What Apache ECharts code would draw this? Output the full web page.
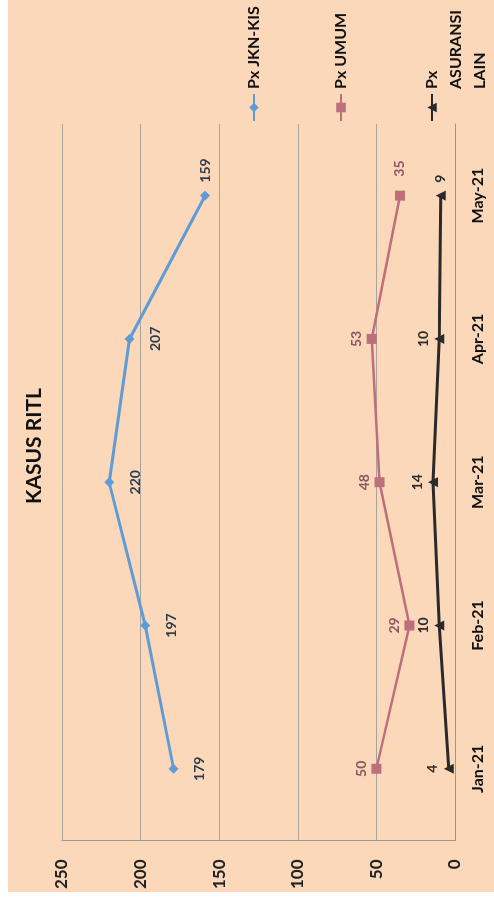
<!DOCTYPE html>
<html>
<head>
<meta charset="utf-8">
<title>KASUS RITL</title>
<script src="https://cdn.jsdelivr.net/npm/echarts@6/dist/echarts.min.js"></script>
<style>
html, body {
  margin: 0;
  padding: 0;
  width: 494px;
  height: 901px;
  overflow: hidden;
  background: #ffffff;
}
/* the scanned chart is turned on its side, so the whole chart is drawn flat and rotated */
#wrap {
  position: absolute;
  left: 0;
  top: 0;
  width: 901px;
  height: 494px;
  transform-origin: 0 0;
  transform: translate(0px, 901px) rotate(-90deg);
}
#kasusRitl {
  position: absolute;
  left: 9px;
  top: 8px;
  width: 892px;
  height: 486px;
}
</style>
</head>
<body>
<div id="wrap">
  <div id="kasusRitl"></div>
</div>
<script>
// data
const months = ['Jan-21', 'Feb-21', 'Mar-21', 'Apr-21', 'May-21'];
const pxJknKis = [179, 197, 220, 207, 159];
const pxUmum = [50, 29, 48, 53, 35];
const pxAsuransiLain = [4, 10, 14, 10, 9];
const valueTicks = [0, 50, 100, 150, 200, 250];
const seriesNames = ['Px JKN-KIS', 'Px UMUM', 'Px ASURANSI LAIN'];

const font = 'Lato, "Open Sans", "Liberation Sans", sans-serif';

// last point of each line has its label on the right
function withLastRight(list, dist) {
  return list.map(function (v, i) {
    if (i === list.length - 1) {
      return { value: v, label: { position: 'right', distance: dist } };
    }
    return v;
  });
}

function legendFor(name, top, extraText) {
  return {
    orient: 'vertical',
    left: 770,
    top: top,
    padding: 0,
    itemGap: 0,
    itemWidth: 27,
    itemHeight: 12,
    data: [name],
    selectedMode: false,
    formatter: function (n) {
      // two empty lines first so the marker sits next to "Px"
      return n === seriesNames[2] ? '\n\nPx\nASURANSI\nLAIN' : n;
    },
    textStyle: Object.assign({
      fontFamily: font,
      fontSize: 16,
      fontWeight: 'bold',
      color: '#111'
    }, extraText || {})
  };
}

const myChart = echarts.init(document.getElementById('kasusRitl'), null, { renderer: 'canvas' });

const option = {
  backgroundColor: '#fbd8b9',
  animation: false,
  textStyle: { fontFamily: font },
  title: {
    text: 'KASUS RITL',
    left: 'center',
    top: 16,
    padding: 0,
    textStyle: {
      fontFamily: font,
      fontSize: 21,
      fontWeight: 'bold',
      color: '#111'
    }
  },
  legend: [
    legendFor(seriesNames[0], 238),
    legendFor(seriesNames[1], 325),
    legendFor(seriesNames[2], 364, { lineHeight: 24 })
  ],
  grid: {
    left: 47,
    right: 124,
    top: 54,
    bottom: 39
  },
  xAxis: {
    type: 'category',
    data: months,
    boundaryGap: true,
    axisLine: { show: true, lineStyle: { color: '#9a9690', width: 1 } },
    axisTick: { show: false },
    axisLabel: {
      margin: 15,
      fontFamily: font,
      fontSize: 16,
      fontWeight: 'bold',
      color: '#111'
    },
    splitLine: { show: false }
  },
  yAxis: {
    type: 'value',
    min: valueTicks[0],
    max: valueTicks[valueTicks.length - 1],
    interval: valueTicks[1] - valueTicks[0],
    axisLine: { show: true, lineStyle: { color: '#9a9690', width: 1 } },
    axisTick: { show: false },
    axisLabel: {
      margin: 19,
      fontFamily: font,
      fontSize: 17,
      fontWeight: 'bold',
      color: '#222'
    },
    splitLine: { show: true, lineStyle: { color: '#a8a49c', width: 1 } }
  },
  series: [
    {
      name: seriesNames[0],
      type: 'line',
      data: withLastRight(pxJknKis, 8),
      symbol: 'diamond',
      symbolSize: 10,
      lineStyle: { color: '#5f9bd6', width: 3 },
      itemStyle: { color: '#5f9bd6' },
      label: {
        show: true,
        position: 'bottom',
        distance: 14,
        fontFamily: font,
        fontSize: 14,
        fontWeight: 'bold',
        color: '#2f3b4c'
      },
      z: 3
    },
    {
      name: seriesNames[1],
      type: 'line',
      data: withLastRight(pxUmum, 14),
      symbol: 'rect',
      symbolSize: 10,
      lineStyle: { color: '#bd6f7c', width: 2.5 },
      itemStyle: { color: '#bd6f7c' },
      label: {
        show: true,
        position: 'top',
        distance: 3,
        fontFamily: font,
        fontSize: 14,
        fontWeight: 'bold',
        color: '#8e5560'
      },
      z: 3
    },
    {
      name: seriesNames[2],
      type: 'line',
      data: withLastRight(pxAsuransiLain, 8),
      symbol: 'triangle',
      symbolSize: 10,
      lineStyle: { color: '#2a2a2a', width: 3 },
      itemStyle: { color: '#2a2a2a' },
      label: {
        show: true,
        position: 'top',
        distance: 4,
        fontFamily: font,
        fontSize: 14,
        fontWeight: 'bold',
        color: '#2a2a2a'
      },
      z: 3
    }
  ]
};

myChart.setOption(option);
</script>
</body>
</html>
